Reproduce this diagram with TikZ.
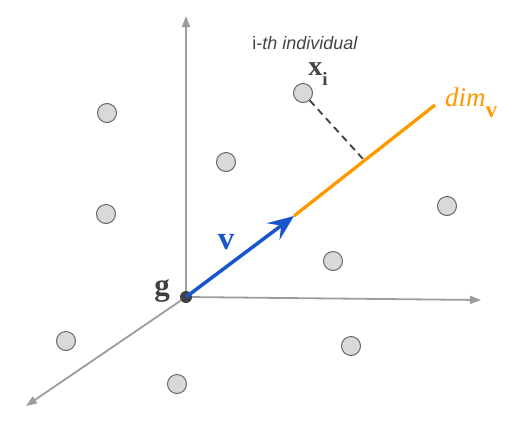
\documentclass[tikz,border=0pt]{standalone}
\usepackage{fontspec}
\setmainfont{Liberation Serif}
\newfontfamily\labelfont{Liberation Sans}
\usetikzlibrary{arrows.meta,positioning,calc}
\definecolor{vecblue}{HTML}{1A55CC}
\definecolor{dimorange}{HTML}{FF9900}
\definecolor{axisgray}{HTML}{9C9C9C}
\definecolor{textgray}{HTML}{444444}

\begin{document}
\begin{tikzpicture}[
    x=1pt,y=-1pt,
    point/.style={circle,draw=black!60,fill=black!15,line width=1pt,
                  minimum size=19pt,inner sep=0pt},
    origin/.style={circle,fill=black!75,minimum size=12pt,inner sep=0pt},
    axis/.style={-{Triangle[length=11pt,width=8pt]},axisgray,line width=1.8pt},
    vec/.style={-{Stealth[length=26pt,width=21pt,inset=10pt]},vecblue,line width=3.5pt},
    dimline/.style={dimorange,line width=3.3pt},
    proj/.style={textgray,line width=1.9pt,dash pattern=on 7pt off 5pt},
    lbl/.style={inner sep=0pt}
  ]
    \useasboundingbox (0,0) rectangle (519,429);

    % axes
    \coordinate (o) at (186,297);
    \coordinate (yend) at (186,16);
    \coordinate (xend) at (481,300);
    \coordinate (zend) at (26,406);
    \draw[axis] (o) -- (yend);
    \draw[axis] (o) -- (xend);
    \draw[axis] (o) -- (zend);

    % individuals
    \node[point] (p1) at (107,113) {};
    \node[point] (p2) at (226,162) {};
    \node[point] (p3) at (106,214) {};
    \node[point] (xi) at (303,93) {};
    \node[point] (p5) at (447,206) {};
    \node[point] (p6) at (333,261) {};
    \node[point] (p7) at (66,341) {};
    \node[point] (p8) at (351,346) {};
    \node[point] (p9) at (177,384) {};

    % direction v
    \coordinate (vtip) at (294,216);
    \coordinate (dimend) at (435,105);
    \coordinate (foot) at (363,159);
    \draw[dimline] (vtip) -- (dimend);
    \node[origin] (g) at (o) {};
    \draw[vec] (g.center) -- (vtip);
    \draw[proj] (xi) -- (foot);

    % labels
    \node[lbl,textgray,font=\labelfont\fontsize{18}{20}\selectfont] (ind) at (305,43) {i-\textit{th individual}};
    \node[lbl,textgray,font=\bfseries\fontsize{28}{30}\selectfont] (xlbl) at (318,74) {x\raisebox{-0.8ex}{\fontsize{19}{21}\selectfont i}};
    \node[lbl,dimorange,font=\fontsize{27}{30}\selectfont] (dimlbl) at (471,103) {\textit{dim}\raisebox{-0.85ex}{\bfseries\fontsize{23}{25}\selectfont v}};
    \node[lbl,vecblue,font=\bfseries\fontsize{33}{35}\selectfont] (vlbl) at (226,242) {v};
    \node[lbl,black!75,font=\bfseries\fontsize{31}{33}\selectfont] (glbl) at (162,291) {g};
  \end{tikzpicture}
\end{document}
